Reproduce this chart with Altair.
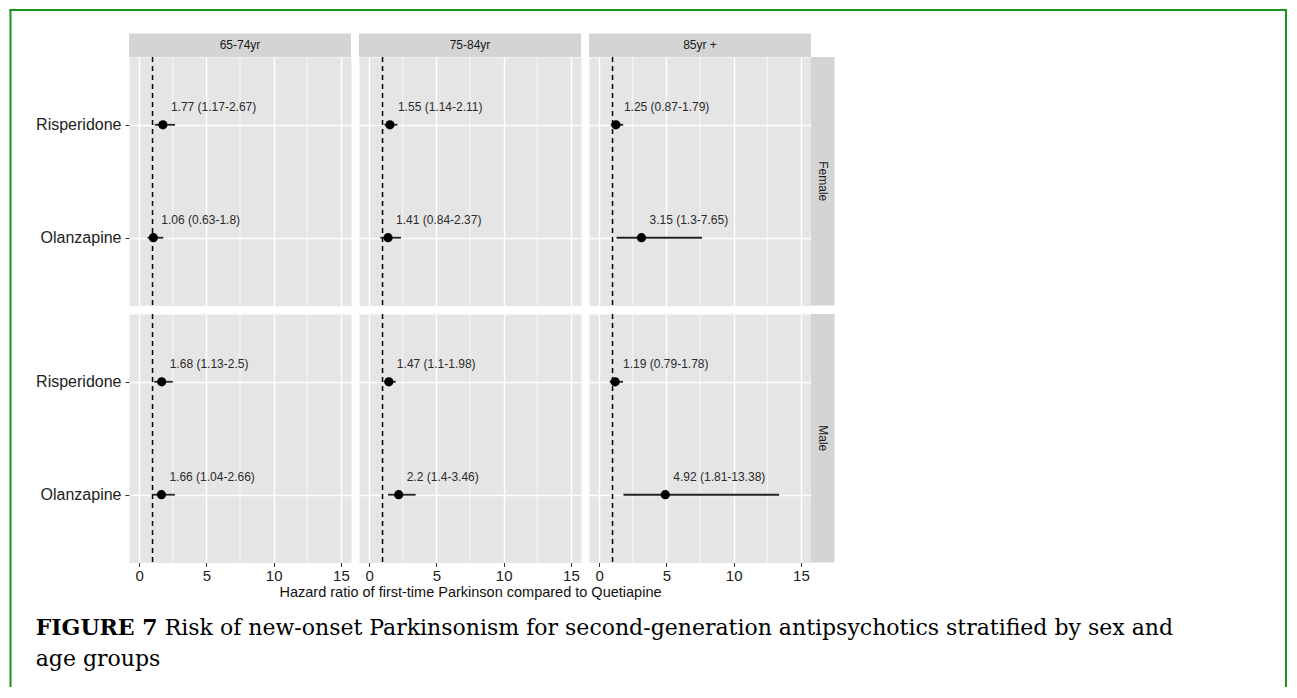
import altair as alt
import pandas as pd

# ---------------- data ----------------
ages = ["65-74yr", "75-84yr", "85yr +"]
sexes = ["Female", "Male"]
drugs = ["Risperidone", "Olanzapine"]

ris_female_est = [1.77, 1.55, 1.25]
ris_female_lo = [1.17, 1.14, 0.87]
ris_female_hi = [2.67, 2.11, 1.79]
ola_female_est = [1.06, 1.41, 3.15]
ola_female_lo = [0.63, 0.84, 1.3]
ola_female_hi = [1.8, 2.37, 7.65]
ris_male_est = [1.68, 1.47, 1.19]
ris_male_lo = [1.13, 1.1, 0.79]
ris_male_hi = [2.5, 1.98, 1.78]
ola_male_est = [1.66, 2.2, 4.92]
ola_male_lo = [1.04, 1.4, 1.81]
ola_male_hi = [2.66, 3.46, 13.38]

x_ticks = [0, 5, 10, 15]
x_minor = [2.5, 7.5, 12.5]
x_domain = [-0.75, 15.75]
reference_hr = [1]
x_title = "Hazard ratio of first-time Parkinson compared to Quetiapine"
caption_bold = "FIGURE 7"
caption_line1 = "Risk of new-onset Parkinsonism for second-generation antipsychotics stratified by sex and"
caption_line2 = "age groups"

series = {
    ("Female", "Risperidone"): (ris_female_est, ris_female_lo, ris_female_hi),
    ("Female", "Olanzapine"): (ola_female_est, ola_female_lo, ola_female_hi),
    ("Male", "Risperidone"): (ris_male_est, ris_male_lo, ris_male_hi),
    ("Male", "Olanzapine"): (ola_male_est, ola_male_lo, ola_male_hi),
}
rows = []
for (sex, drug), (e, l, h) in series.items():
    for i, age in enumerate(ages):
        rows.append(dict(sex=sex, drug=drug, age=age, est=e[i], lo=l[i], hi=h[i],
                         label=f"{e[i]:g} ({l[i]:g}-{h[i]:g})"))
df = pd.DataFrame(rows)
minor_df = pd.DataFrame({"m": x_minor})
ref_df = pd.DataFrame({"r": reference_hr})

# ---------------- style ----------------
FONT = "Liberation Sans"
SERIF = "DejaVu Serif"
PANEL = "#e5e5e5"
STRIP = "#d4d4d4"
GREEN = "#1c931c"
W, H = 222, 248.5
SW = 23.5
BL, BT = -118.5, -47   # border offsets relative to the top-left panel


def panel(ri, ci):
    sex, age = sexes[ri], ages[ci]
    d = df[(df.sex == sex) & (df.age == age)]
    bottom, left = ri == 1, ci == 0
    xaxis = alt.Axis(values=x_ticks, grid=True, gridColor="white", gridWidth=1.4,
                     domain=False, labels=bottom, ticks=bottom, tickSize=4,
                     tickColor="#333333", tickWidth=1, labelFont=FONT, labelFontSize=15,
                     labelColor="#222222", labelPadding=2,
                     title=x_title if (bottom and ci == 1) else None,
                     titleFont=FONT, titleFontSize=14.5, titleColor="#111111",
                     titleFontWeight="normal", titlePadding=2)
    yaxis = alt.Axis(grid=True, gridColor="white", gridWidth=1.4, domain=False,
                     labels=left, ticks=left, tickSize=4, tickColor="#333333",
                     labelFont=FONT, labelFontSize=16, labelColor="#222222",
                     labelPadding=4, title=None)
    xs = alt.Scale(domain=x_domain, nice=False, zero=False)
    ys = alt.Scale(type="point", domain=drugs, padding=0.6)

    def X(f):
        return alt.X(f, type="quantitative", scale=xs, axis=xaxis)

    Y = alt.Y("drug:N", scale=ys, axis=yaxis)
    base = alt.Chart(d)
    layers = [
        alt.Chart(minor_df).mark_rule(color="white", strokeWidth=0.7).encode(x=X("m")),
        alt.Chart(ref_df).mark_rule(color="black", strokeWidth=1.5,
                                    strokeDash=[5, 4]).encode(x=X("r")),
        base.mark_rule(color="#222222", strokeWidth=1.8).encode(x=X("lo"), x2="hi", y=Y),
        base.mark_circle(color="black", size=85, opacity=1).encode(x=X("est"), y=Y),
        base.mark_text(align="left", baseline="middle", dx=8, dy=-18, font=FONT,
                       fontSize=12, color="#2b2b2b").encode(x=X("est"), y=Y, text="label:N"),
    ]
    if ri == 0:
        s = alt.Chart(pd.DataFrame({"t": [age]}))
        layers += [
            s.mark_rect(color=STRIP).encode(x=alt.value(0), x2=alt.value(W),
                                            y=alt.value(-SW), y2=alt.value(0)),
            s.mark_text(font=FONT, fontSize=12, color="#1a1a1a", baseline="middle").encode(
                x=alt.value(W / 2), y=alt.value(-SW / 2), text="t:N"),
        ]
    if ci == 2:
        s = alt.Chart(pd.DataFrame({"t": [sex]}))
        layers += [
            s.mark_rect(color=STRIP).encode(x=alt.value(W), x2=alt.value(W + SW),
                                            y=alt.value(0), y2=alt.value(H)),
            s.mark_text(font=FONT, fontSize=12, color="#1a1a1a", angle=90,
                        baseline="middle").encode(
                x=alt.value(W + SW / 2), y=alt.value(H / 2), text="t:N"),
        ]
    if ri == 0 and ci == 0:
        b = alt.Chart(pd.DataFrame({"b": [0]}))
        layers += [
            b.mark_rule(color=GREEN, strokeWidth=2).encode(
                x=alt.value(BL), y=alt.value(BT - 1), y2=alt.value(630)),
            b.mark_rule(color=GREEN, strokeWidth=2).encode(
                x=alt.value(BL - 1), x2=alt.value(1158), y=alt.value(BT)),
            b.mark_rule(color=GREEN, strokeWidth=2).encode(
                x=alt.value(1157), y=alt.value(BT - 1), y2=alt.value(630)),
        ]
    return alt.layer(*layers).properties(
        width=W, height=H, view=alt.ViewBackground(fill=PANEL, strokeOpacity=0))


cap = alt.Chart(pd.DataFrame({"a": [caption_bold], "b": [caption_line1], "c": [caption_line2]}))
cx = -93.3
CFS = 22
caption = alt.layer(
    cap.mark_text(align="left", baseline="alphabetic", font=SERIF, fontSize=CFS,
                  fontWeight="bold", color="black").encode(
        x=alt.value(cx), y=alt.value(64), text="a:N"),
    cap.mark_text(align="left", baseline="alphabetic", font=SERIF, fontSize=CFS,
                  color="black").encode(
        x=alt.value(cx + 129), y=alt.value(64), text="b:N"),
    cap.mark_text(align="left", baseline="alphabetic", font=SERIF, fontSize=CFS,
                  color="black").encode(
        x=alt.value(cx), y=alt.value(95), text="c:N"),
).properties(width=W, height=100,
             view=alt.ViewBackground(fillOpacity=0, strokeOpacity=0))

cells = [panel(r, c) for r in range(2) for c in range(3)] + [caption]
chart = alt.concat(*cells, columns=3, spacing=8, bounds="flush").properties(
    padding=0).configure(background="white").configure_view(strokeOpacity=0)

chart.save("out.html", embed_options={"renderer": "svg", "actions": False})
